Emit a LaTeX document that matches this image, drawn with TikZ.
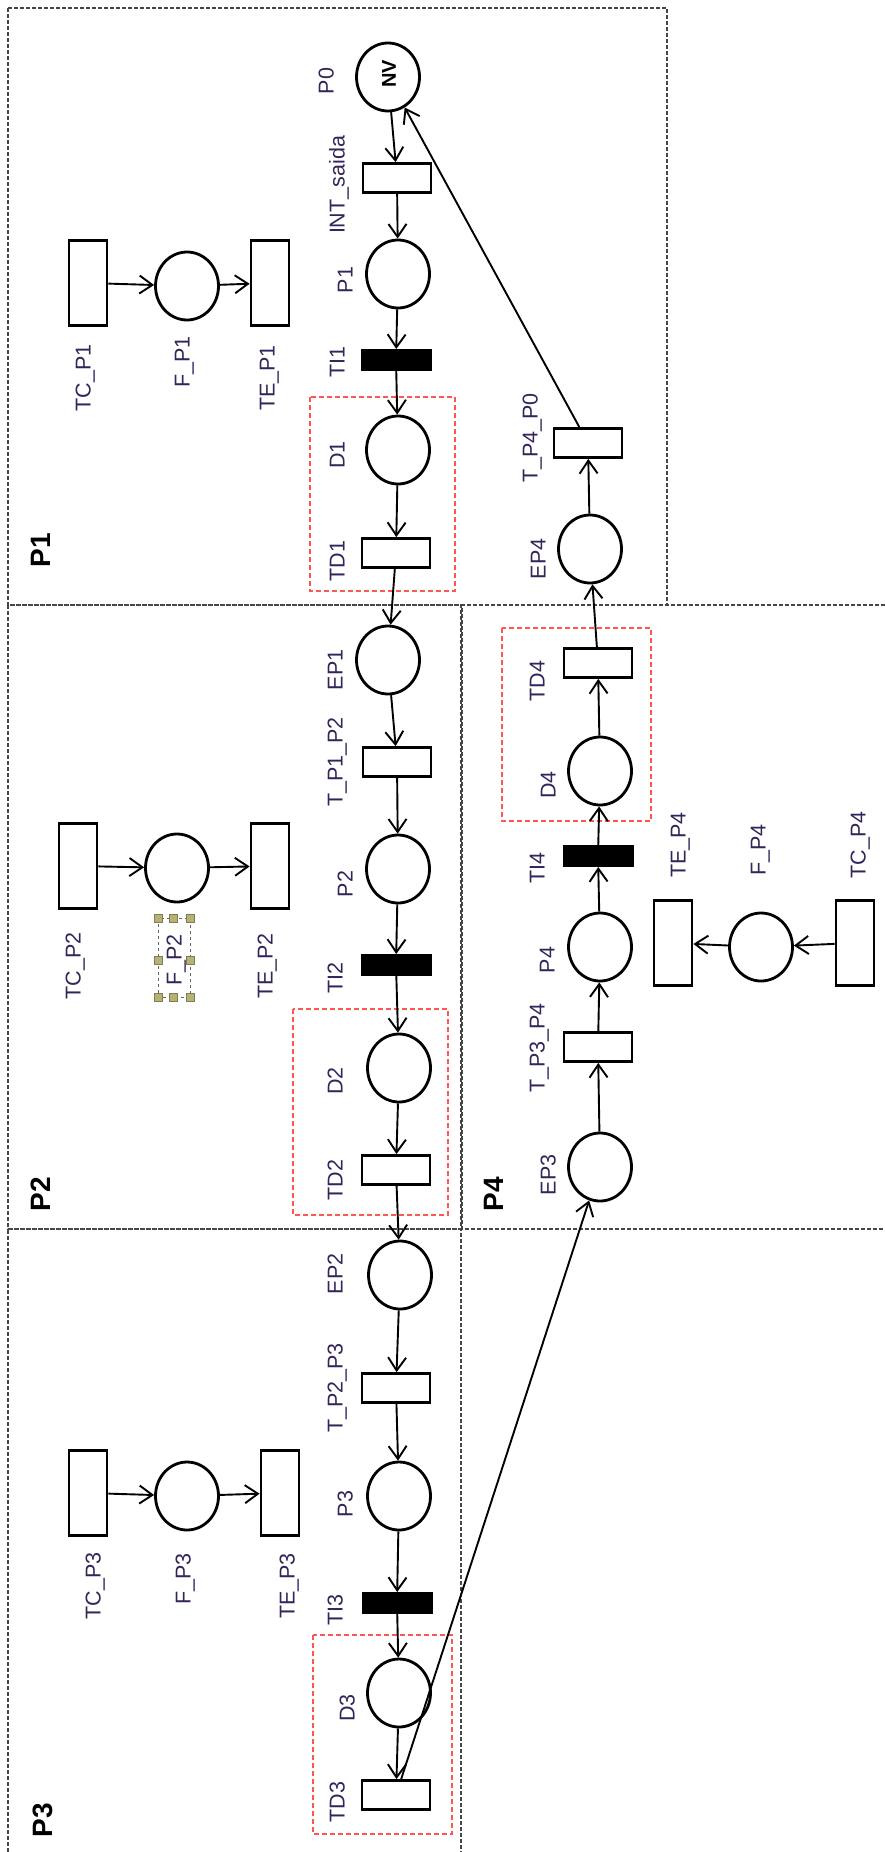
\documentclass[tikz,border=0pt]{standalone}
\usepackage{fontspec}
\setmainfont{Liberation Sans}
\usetikzlibrary{shapes.geometric,arrows.meta}
\definecolor{lbl}{RGB}{52,36,90}
\definecolor{frame}{RGB}{70,70,70}
\definecolor{redbox}{RGB}{255,85,85}
\definecolor{handle}{RGB}{182,178,118}
\begin{document}
\begin{tikzpicture}[x=1pt,y=-1pt,
 place/.style={ellipse,draw,line width=2.8pt,minimum width=63pt,minimum height=68pt,inner sep=0pt},
 trans/.style={rectangle,draw,line width=2.8pt,minimum width=68pt,minimum height=29pt,inner sep=0pt},
 imm/.style={rectangle,fill=black,draw,line width=1pt,minimum width=70pt,minimum height=21pt,inner sep=0pt},
 vtrans/.style={rectangle,draw,line width=2.8pt,minimum width=38pt,minimum height=85pt,inner sep=0pt},
 lab/.style={rotate=90,text=lbl,font=\fontsize{21.5}{24}\selectfont,inner sep=0pt,text height=15.4pt,text depth=0pt},
 ttl/.style={rotate=90,font=\fontsize{28}{30}\selectfont\bfseries,inner sep=0pt,text height=20pt,text depth=0pt},
 arc/.style={draw,line width=1.9pt,-{Straight Barb[length=13pt,width=18pt]}},
 frm/.style={draw=frame,line width=2pt,dash pattern=on 4pt off 2pt},
 dbox/.style={draw=redbox,line width=1.6pt,dash pattern=on 5pt off 3pt},
 hnd/.style={fill=handle,draw=handle!70!black,line width=0.5pt,minimum size=8.5pt,inner sep=0pt},
]
\useasboundingbox (0,0) rectangle (885,1852);
% frames
\draw[frm] (8,8) rectangle (667,605);
\draw[frm] (8,605) rectangle (461,1229);
\draw[frm] (8,1852) -- (8,1229) -- (461,1229) -- (461,1852);
\draw[frm] (885,605) -- (462,605) -- (462,1229) -- (885,1229);
% red dashed boxes
\draw[dbox] (310,397) rectangle (455,591);
\draw[dbox] (293,1009) rectangle (448,1215);
\draw[dbox] (313,1635) rectangle (452,1834);
\draw[dbox] (502,628) rectangle (651,821);
% titles
\node[ttl] (t1) at (40,550) {P1};
\node[ttl] (t2) at (40,1194) {P2};
\node[ttl] (t3) at (42,1820) {P3};
\node[ttl] (t4) at (493,1194) {P4};
% main chain
\node[place] (p0) at (388,77) {};
\node[rotate=90,font=\fontsize{20}{22}\selectfont\bfseries,inner sep=0pt] (nv) at (389,74) {NV};
\node[trans] (intsaida) at (397,178) {};
\node[place] (p1) at (398,274) {};
\node[imm] (ti1) at (396,360) {};
\node[place] (d1) at (398,450) {};
\node[trans] (td1) at (396,553) {};
\node[place] (ep1) at (388,660) {};
\node[trans] (tp1p2) at (397,762) {};
\node[place] (p2) at (398,869) {};
\node[imm] (ti2) at (396,965) {};
\node[place] (d2) at (399,1068) {};
\node[trans] (td2) at (396,1170) {};
\node[place] (ep2) at (400,1275) {};
\node[trans] (tp2p3) at (396,1388) {};
\node[place] (p3) at (399,1496) {};
\node[imm] (ti3) at (397,1603) {};
\node[place] (d3) at (399,1693) {};
\node[trans] (td3) at (396,1795) {};
% P4 chain
\node[place] (ep3) at (600,1167) {};
\node[trans] (tp3p4) at (598,1047) {};
\node[place] (p4) at (600,947) {};
\node[imm] (ti4) at (598,856) {};
\node[place] (d4) at (600,771) {};
\node[trans] (td4) at (598,663) {};
\node[place] (ep4) at (590,549) {};
\node[trans] (tp4p0) at (588,443) {};
% side nets
\node[vtrans] (tcp1) at (88,283) {};
\node[place] (fp1) at (187,286) {};
\node[vtrans] (tep1) at (270,283) {};
\node[vtrans] (tcp2) at (78,866) {};
\node[place] (fp2) at (177,868) {};
\node[vtrans] (tep2) at (270,866) {};
\node[vtrans] (tcp3) at (88,1493) {};
\node[place] (fp3) at (187,1496) {};
\node[vtrans] (tep3) at (280,1493) {};
\node[vtrans] (tep4) at (673,943) {};
\node[place] (fp4) at (761,947) {};
\node[vtrans] (tcp4) at (855,943) {};
% labels
\node[lab] (lp0) at (326,81) {P0};
\node[lab] (lint) at (337,185) {INT\_saida};
\node[lab] (lp1) at (345,280) {P1};
\node[lab] (lti1) at (337,362) {TI1};
\node[lab] (ld1) at (337,455) {D1};
\node[lab] (ltd1) at (337,561) {TD1};
\node[lab] (lep1) at (335,670) {EP1};
\node[lab] (ltp1p2) at (335,762) {T\_P1\_P2};
\node[lab] (lp2) at (345,884) {P2};
\node[lab] (lti2) at (335,978) {TI2};
\node[lab] (ld2) at (335,1081) {D2};
\node[lab] (ltd2) at (335,1180) {TD2};
\node[lab] (lep2) at (335,1274) {EP2};
\node[lab] (ltp2p3) at (335,1388) {T\_P2\_P3};
\node[lab] (lp3) at (345,1504) {P3};
\node[lab] (lti3) at (335,1610) {TI3};
\node[lab] (ld3) at (347,1708) {D3};
\node[lab] (ltd3) at (337,1802) {TD3};
\node[lab] (ltp4p0) at (530,438) {T\_P4\_P0};
\node[lab] (lep4) at (538,559) {EP4};
\node[lab] (ltd4) at (537,681) {TD4};
\node[lab] (ld4) at (548,785) {D4};
\node[lab] (lti4) at (537,868) {TI4};
\node[lab] (lp4) at (547,960) {P4};
\node[lab] (ltp3p4) at (537,1048) {T\_P3\_P4};
\node[lab] (lep3) at (548,1175) {EP3};
\node[lab] (ltcp1) at (83,378) {TC\_P1};
\node[lab] (lfp1) at (182,362) {F\_P1};
\node[lab] (ltep1) at (267,378) {TE\_P1};
\node[lab] (ltcp2) at (73,966) {TC\_P2};
\node[lab] (lfp2) at (174,960) {F\_P2};
\node[lab] (ltep2) at (265,966) {TE\_P2};
\node[lab] (ltcp3) at (93,1586) {TC\_P3};
\node[lab] (lfp3) at (183,1579) {F\_P3};
\node[lab] (ltep3) at (287,1586) {TE\_P3};
\node[lab] (ltep4) at (678,845) {TE\_P4};
\node[lab] (lfp4) at (758,850) {F\_P4};
\node[lab] (ltcp4) at (858,845) {TC\_P4};
% selection handles round F_P2
\draw[gray!80!black,line width=1pt,dash pattern=on 3pt off 3pt] (158,918) rectangle (190,997);
\foreach \hx/\hy [count=\i] in {158/918,173/918,190/918,158/960,190/960,158/997,173/997,190/997}
  \node[hnd] (h\i) at (\hx,\hy) {};
% arcs
\foreach \a/\b in {p0/intsaida,intsaida/p1,p1/ti1,ti1/d1,d1/td1,td1/ep1,ep1/tp1p2,tp1p2/p2,p2/ti2,ti2/d2,d2/td2,td2/ep2,ep2/tp2p3,tp2p3/p3,p3/ti3,ti3/d3,d3/td3,td3/ep3,ep3/tp3p4,tp3p4/p4,p4/ti4,ti4/d4,d4/td4,td4/ep4,ep4/tp4p0,tp4p0/p0,tcp1/fp1,fp1/tep1,tcp2/fp2,fp2/tep2,tcp3/fp3,fp3/tep3,tcp4/fp4,fp4/tep4}
  \draw[arc] (\a) -- (\b);
\end{tikzpicture}
\end{document}
